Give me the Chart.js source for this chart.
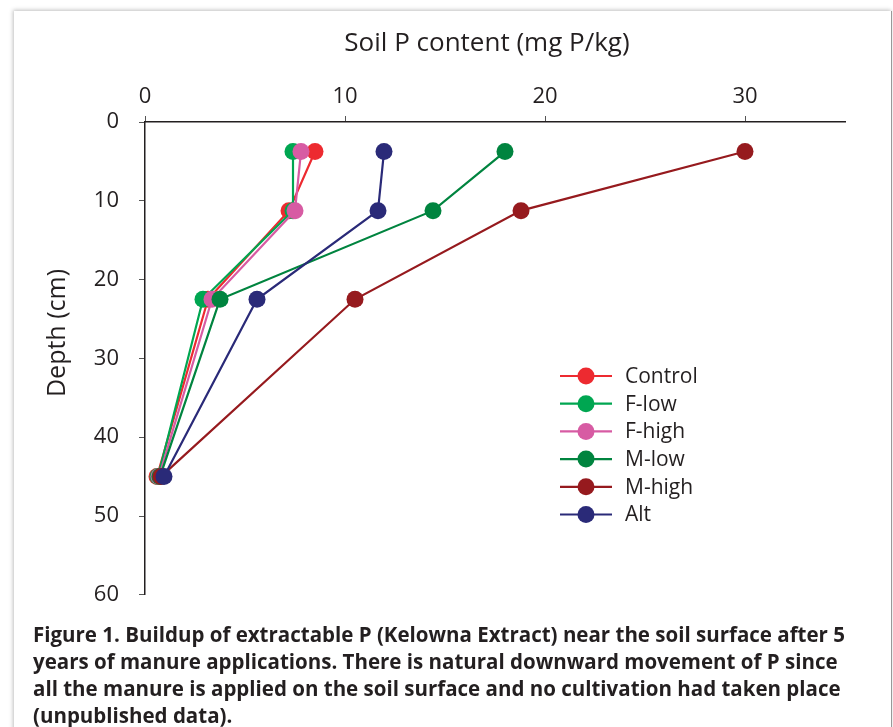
<!DOCTYPE html>
<html>
<head>
<meta charset="utf-8">
<script src="https://cdn.jsdelivr.net/npm/chart.js@4.4.1/dist/chart.umd.min.js"></script>
<style>
  html, body { margin: 0; padding: 0; background: #fff; }
  body { width: 893px; height: 727px; position: relative; overflow: hidden; font-family: "Open Sans", sans-serif; }
  #frame {
    position: absolute; left: 14px; top: 11px; width: 877px; height: 740px;
    background: #fff;
    border-right: 1px solid #999;
    box-shadow: -1px -1px 4px rgba(0,0,0,0.25);
  }
  #wrap { position: absolute; left: 0; top: 0; width: 893px; height: 628px; }
  #caption {
    position: absolute; left: 33px; top: 621px;
    font-family: "Open Sans", sans-serif; font-weight: 700; font-size: 20.5px;
    line-height: 27px; color: #231f20; white-space: nowrap; letter-spacing: 0;
  }
</style>
</head>
<body>
<div id="frame"></div>
<div id="wrap"><canvas id="chart-soil"></canvas></div>
<div id="caption">
  Figure 1. Buildup of extractable P (Kelowna Extract) near the soil surface after 5<br>
  years of manure applications. There is natural downward movement of P since<br>
  all the manure is applied on the soil surface and no cultivation had taken place<br>
  (unpublished data).
</div>
<script>
// depth of each sample (cm)
const depths = [3.75, 11.25, 22.5, 45];

// soil P (mg P/kg) per treatment
const control = [8.5, 7.2, 3.15, 0.6];
const fLow = [7.4, 7.4, 2.9, 0.65];
const fHigh = [7.8, 7.5, 3.35, 0.7];
const mLow = [18.0, 14.4, 3.75, 0.75];
const mHigh = [30.0, 18.8, 10.5, 0.8];
const alt = [11.95, 11.65, 5.6, 0.95];

const seriesNames = ['Control', 'F-low', 'F-high', 'M-low', 'M-high', 'Alt'];
const seriesValues = [control, fLow, fHigh, mLow, mHigh, alt];
const seriesColors = ['#ed2a30', '#00a651', '#d75ba3', '#00843f', '#961a1e', '#2a2a78'];

const xTicks = [0, 10, 20, 30];
const yTicks = [0, 10, 20, 30, 40, 50, 60];

const ink = '#231f20';
const tickFont = { family: 'Open Sans', size: 22 };

// legend + axis titles drawn by hand so they sit where the original has them
const extrasPlugin = {
    id: 'extras',
    afterDraw(chart) {
        const ctx = chart.ctx;
        const area = chart.chartArea;
        ctx.save();
        ctx.fillStyle = ink;
        ctx.textAlign = 'center';
        ctx.textBaseline = 'middle';
        ctx.font = '26px "Open Sans"';
        ctx.fillText('Soil P content (mg P/kg)', area.left + 342, 44);
        ctx.font = '25px "Open Sans"';
        ctx.translate(58, area.top + 211);
        ctx.rotate(-Math.PI / 2);
        ctx.fillText('Depth (cm)', 0, 0);
        ctx.restore();

        ctx.save();
        ctx.font = '21px "Open Sans"';
        ctx.textBaseline = 'middle';
        ctx.textAlign = 'left';
        chart.data.datasets.forEach((ds, i) => {
            const y = area.top + 254 + i * 27.7;
            const x0 = area.left + 415;
            ctx.strokeStyle = ds.borderColor;
            ctx.lineWidth = 2.2;
            ctx.beginPath();
            ctx.moveTo(x0, y);
            ctx.lineTo(x0 + 52, y);
            ctx.stroke();
            ctx.fillStyle = ds.backgroundColor;
            ctx.beginPath();
            ctx.arc(x0 + 26, y, 8.5, 0, Math.PI * 2);
            ctx.fill();
            ctx.fillStyle = ink;
            ctx.fillText(ds.label, x0 + 65, y + 1);
        });
        ctx.restore();
    }
};

const datasets = seriesNames.map((name, i) => ({
    label: name,
    data: depths.map((d, j) => ({ x: seriesValues[i][j], y: d })),
    borderColor: seriesColors[i],
    backgroundColor: seriesColors[i],
    pointBackgroundColor: seriesColors[i],
    pointBorderWidth: 0,
    pointRadius: 8.5,
    borderWidth: 2.2,
    showLine: true,
    order: seriesNames.length - i
}));

new Chart(document.getElementById('chart-soil'), {
    type: 'scatter',
    data: { datasets: datasets },
    options: {
        responsive: true,
        maintainAspectRatio: false,
        animation: false,
        layout: { padding: { right: 48, bottom: 8, top: 0, left: 0 } },
        plugins: {
            legend: { display: false },
            tooltip: { enabled: false },
            title: { display: false }
        },
        scales: {
            x: {
                type: 'linear',
                position: 'top',
                min: 0,
                max: 35,
                afterBuildTicks: axis => { axis.ticks = xTicks.map(v => ({ value: v })); },
                afterFit: axis => { axis.height = 122; },
                grid: { display: true, drawOnChartArea: false, drawTicks: true, tickLength: 6, color: '#555' },
                border: { display: true, color: ink, width: 1.5 },
                ticks: { color: ink, font: tickFont, padding: 6, maxRotation: 0 }
            },
            y: {
                type: 'linear',
                reverse: true,
                min: 0,
                max: 60,
                afterBuildTicks: axis => { axis.ticks = yTicks.map(v => ({ value: v })); },
                afterFit: axis => { axis.width = 145; },
                grid: { display: true, drawOnChartArea: false, drawTicks: true, tickLength: 6, color: '#555' },
                border: { display: true, color: ink, width: 1.5 },
                ticks: { color: ink, font: tickFont, padding: 20 }
            }
        }
    },
    plugins: [extrasPlugin]
});
</script>
</body>
</html>
